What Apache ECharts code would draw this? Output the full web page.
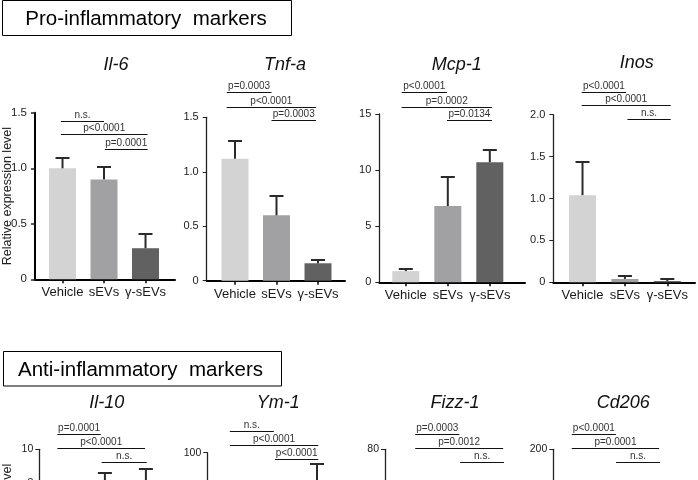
<!DOCTYPE html>
<html><head><meta charset="utf-8">
<script src="https://cdn.jsdelivr.net/npm/echarts@6/dist/echarts.min.js"></script>
<style>html,body{margin:0;padding:0;background:#fff}#c{width:698px;height:480px}</style>
</head><body><div id="c"></div>
<script>
// ---- data ----
const groups = ['Vehicle', 'sEVs', 'γ-sEVs'];
const groupColors = ['#d3d3d3', '#a1a1a4', '#616161'];

const il6Mean = [1.00, 0.90, 0.28];
const il6Err  = [0.09, 0.11, 0.13];
const tnfMean = [1.12, 0.60, 0.16];
const tnfErr  = [0.16, 0.18, 0.03];
const mcpMean = [1.0, 6.8, 10.7];
const mcpErr  = [0.15, 2.6, 1.1];
const inosMean = [1.04, 0.04, 0.015];
const inosErr  = [0.39, 0.04, 0.025];
const il10Mean = [1.0, 6.6, 6.9];
const il10Err  = [0.2, 2.0, 1.9];
const ym1Mean = [1.0, 22, 70];
const ym1Err  = [0.3, 8, 23];
const fizzMean = [1.0, 30, 45];
const fizzErr  = [0.3, 10, 15];
const cd206Mean = [1.0, 100, 120];
const cd206Err  = [0.2, 30, 30];

// y-axis ticks: [max, step]
const il6Ticks = [1.5, 0.5];
const tnfTicks = [1.5, 0.5];
const mcpTicks = [15, 5];
const inosTicks = [2.0, 0.5];
const il10Ticks = [10, 2];
const ym1Ticks = [100, 20];
const fizzTicks = [80, 20];
const cd206Ticks = [200, 50];

// significance brackets: [fromGroup, toGroup, level, label]
const il6Sig = [[0.96, 2.00, 1.426, 'n.s.'], [0.96, 3.05, 1.306, 'p<0.0001'], [2.02, 3.05, 1.171, 'p=0.0001']];
const tnfSig = [[0.80, 1.88, 1.730, 'p=0.0003'], [0.80, 2.95, 1.598, 'p<0.0001'], [1.88, 2.95, 1.476, 'p=0.0003']];
const mcpSig = [[0.90, 1.98, 16.99, 'p<0.0001'], [0.90, 3.05, 15.65, 'p=0.0002'], [1.98, 3.05, 14.47, 'p=0.0134']];
const inosSig = [[0.98, 2.03, 2.274, 'p<0.0001'], [0.98, 3.08, 2.112, 'p<0.0001'], [2.06, 3.08, 1.945, 'n.s.']];
const il10Sig = [[0.84, 1.90, 10.9, 'p=0.0001'], [0.84, 2.98, 10.06, 'p<0.0001'], [1.92, 3.02, 9.22, 'n.s.']];
const ym1Sig = [[0.90, 1.96, 113, 'n.s.'], [0.90, 3.03, 104.6, 'p<0.0001'], [1.99, 3.03, 96.0, 'p<0.0001']];
const fizzSig = [[0.98, 2.02, 87.2, 'p=0.0003'], [0.98, 3.05, 80.5, 'p=0.0012'], [2.04, 3.07, 73.8, 'n.s.']];
const cd206Sig = [[0.85, 1.90, 218, 'p<0.0001'], [0.85, 2.93, 201.2, 'p=0.0001'], [1.905, 2.95, 184.4, 'n.s.']];

// ---- layout ----
const FONT = '"Liberation Sans", Arial, sans-serif';
const panels = [
  {title: 'Il-6', mean: il6Mean, err: il6Err, sig: il6Sig, ticks: il6Ticks, left: 35, top: 112.8, width: 140, height: 166.5, xMin: 0.337, spacing: 41.5, tx: 116, ty: 65, yName: 21, heavy: true, labelSize: 11.5, labelMargin: 8},
  {title: 'Tnf-a', mean: tnfMean, err: tnfErr, sig: tnfSig, ticks: tnfTicks, left: 206.7, top: 117.3, width: 138.3, height: 163.4, xMin: 0.318, spacing: 41.5, tx: 285, ty: 65, labelSize: 11, labelMargin: 8},
  {title: 'Mcp-1', mean: mcpMean, err: mcpErr, sig: mcpSig, ticks: mcpTicks, left: 379.3, top: 114, width: 145.7, height: 168.3, xMin: 0.369, spacing: 42, tx: 456.7, ty: 65, labelSize: 11, labelMargin: 8},
  {title: 'Inos', mean: inosMean, err: inosErr, sig: inosSig, ticks: inosTicks, left: 553.3, top: 114.7, width: 141.7, height: 167.6, xMin: 0.311, spacing: 42.4, tx: 636.7, ty: 63, labelSize: 11, labelMargin: 8},
  {title: 'Il-10', mean: il10Mean, err: il10Err, sig: il10Sig, ticks: il10Ticks, left: 39.3, top: 449.3, width: 140, height: 167, xMin: 0.4, spacing: 41, tx: 106.7, ty: 403.3, yName: 25, labelSize: 10.5, labelMargin: 6},
  {title: 'Ym-1', mean: ym1Mean, err: ym1Err, sig: ym1Sig, ticks: ym1Ticks, left: 207.3, top: 452.7, width: 140, height: 167, xMin: 0.357, spacing: 41.5, tx: 278.3, ty: 403.3, labelSize: 10.5, labelMargin: 6},
  {title: 'Fizz-1', mean: fizzMean, err: fizzErr, sig: fizzSig, ticks: fizzTicks, left: 385, top: 449.3, width: 140, height: 167, xMin: 0.27, spacing: 42.5, tx: 455, ty: 403.3, labelSize: 10.5, labelMargin: 6},
  {title: 'Cd206', mean: cd206Mean, err: cd206Err, sig: cd206Sig, ticks: cd206Ticks, left: 553.3, top: 449.3, width: 140, height: 167, xMin: 0.41, spacing: 42, tx: 623.3, ty: 403.3, labelSize: 10.5, labelMargin: 6}
];

const grid = [], xAxis = [], yAxis = [], series = [], graphic = [];

panels.forEach((p, i) => {
  grid.push({left: p.left, top: p.top, width: p.width, height: p.height, containLabel: false, outerBoundsMode: 'none'});
  xAxis.push({
    type: 'value', gridIndex: i, min: p.xMin, max: p.xMin + p.width / p.spacing,
    splitLine: {show: false},
    axisLine: {show: true, lineStyle: {color: '#000', width: 2}},
    axisTick: {show: true, customValues: [1, 2, 3], length: 4, lineStyle: {color: '#000', width: 1.5}},
    axisLabel: {customValues: [1, 2, 3], formatter: v => groups[Math.round(v) - 1], color: '#1a1a1a', fontSize: 13, fontFamily: FONT, margin: 7}
  });
  const dec = p.ticks[1] < 1 ? 1 : 0;
  yAxis.push({
    type: 'value', gridIndex: i, min: 0, max: p.ticks[0], interval: p.ticks[1],
    splitLine: {show: false},
    axisLine: {show: true, lineStyle: {color: p.heavy ? '#000' : '#222', width: p.heavy ? 2 : 1.3}},
    axisTick: {show: true, length: 4, lineStyle: {color: '#222', width: p.heavy ? 1.5 : 1}},
    axisLabel: {formatter: v => v === 0 ? '0' : v.toFixed(dec), color: '#222', fontSize: p.labelSize, fontFamily: FONT, margin: p.labelMargin},
    name: p.yName ? 'Relative expression level' : '',
    nameLocation: 'middle', nameGap: p.yName || 0, nameMoveOverlap: false,
    nameTextStyle: {color: '#222', fontSize: 12.5, fontFamily: FONT}
  });
  series.push({
    type: 'bar', xAxisIndex: i, yAxisIndex: i, barWidth: 27, z: 2,
    data: p.mean.map((m, k) => ({value: [k + 1, m], itemStyle: {color: groupColors[k]}}))
  });
  series.push({
    type: 'custom', xAxisIndex: i, yAxisIndex: i, z: 3, clip: false,
    encode: {x: 0, y: [1, 2]},
    data: p.mean.map((m, k) => [k + 1, m, m + p.err[k]]),
    renderItem: (params, api) => {
      const b = api.coord([api.value(0), api.value(1)]);
      const t = api.coord([api.value(0), api.value(2)]);
      const ty = Math.round(t[1]);
      return {type: 'group', children: [
        {type: 'line', shape: {x1: b[0], y1: b[1], x2: t[0], y2: ty}, style: {stroke: '#2a2a2a', lineWidth: 2}},
        {type: 'line', shape: {x1: t[0] - 7, y1: ty, x2: t[0] + 7, y2: ty}, style: {stroke: '#2a2a2a', lineWidth: 2}}
      ]};
    }
  });
  series.push({
    type: 'custom', xAxisIndex: i, yAxisIndex: i, z: 4, clip: false,
    encode: {x: [0, 1], y: 2},
    data: p.sig.map(s => [s[0], s[1], s[2]]),
    renderItem: (params, api) => {
      const a = api.coord([api.value(0), api.value(2)]);
      const c = api.coord([api.value(1), api.value(2)]);
      const y = Math.round(a[1]) + 0.5;
      return {type: 'group', children: [
        {type: 'line', shape: {x1: a[0], y1: y, x2: c[0], y2: y}, style: {stroke: '#111', lineWidth: 1}},
        {type: 'text', x: (a[0] + c[0]) / 2, y: y - 1.5, style: {text: p.sig[params.dataIndex][3], fill: '#333', font: '10px ' + FONT, align: 'center', verticalAlign: 'bottom'}}
      ]};
    }
  });
  graphic.push({type: 'text', x: p.tx, y: p.ty, style: {text: p.title, fill: '#111', font: 'italic 18px ' + FONT, align: 'center', verticalAlign: 'middle'}});
});

graphic.push({type: 'rect', shape: {x: 2.5, y: 0.5, width: 289, height: 35}, style: {fill: 'none', stroke: '#000', lineWidth: 1}});
graphic.push({type: 'text', x: 146, y: 19, style: {text: 'Pro-inflammatory  markers', fill: '#000', font: '20.5px ' + FONT, align: 'center', verticalAlign: 'middle'}});
graphic.push({type: 'rect', shape: {x: 3.5, y: 351.5, width: 278, height: 34.5}, style: {fill: 'none', stroke: '#000', lineWidth: 1}});
graphic.push({type: 'text', x: 140.5, y: 370, style: {text: 'Anti-inflammatory  markers', fill: '#000', font: '20.5px ' + FONT, align: 'center', verticalAlign: 'middle'}});

const chart = echarts.init(document.getElementById('c'), null, {renderer: 'canvas'});
chart.setOption({animation: false, backgroundColor: '#fff', grid, xAxis, yAxis, series, graphic});
</script></body></html>
